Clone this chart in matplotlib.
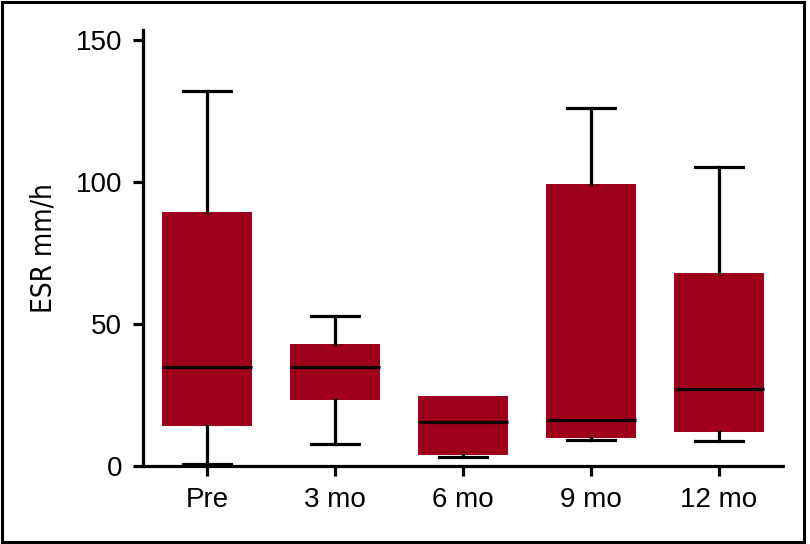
import matplotlib
matplotlib.use("Agg")
import matplotlib.pyplot as plt
from matplotlib.patches import Rectangle

# box statistics (ESR mm/h)
labels = ["Pre", "3 mo", "6 mo", "9 mo", "12 mo"]
whislo = [0.8, 7.7, 3.2, 9.2, 8.7]
q1 = [14.1, 23.2, 3.9, 9.9, 11.8]
med = [35.0, 35.0, 15.5, 16.3, 27.0]
q3 = [89.4, 43.0, 24.5, 99.2, 68.0]
whishi = [132.2, 52.9, 24.5, 126.0, 105.3]

box_color = "#9E001B"

plt.rcParams["font.family"] = ["Liberation Sans", "DejaVu Sans"]

fig = plt.figure(figsize=(8.1, 5.44), dpi=100)
ax = fig.add_axes([143 / 810, 1 - 466 / 544, 640 / 810, 436 / 544])

stats = []
for i in range(len(labels)):
  stats.append({"label": labels[i], "whislo": whislo[i], "q1": q1[i],
                "med": med[i], "q3": q3[i], "whishi": whishi[i], "fliers": []})

parts = ax.bxp(stats, positions=range(len(labels)), widths=0.70, patch_artist=True,
               showfliers=False, capwidths=0.375,
               boxprops=dict(facecolor=box_color, edgecolor=box_color, linewidth=0),
               medianprops=dict(color="black", linewidth=2.3),
               whiskerprops=dict(color="black", linewidth=2.3),
               capprops=dict(color="black", linewidth=2.3))
# no upper whisker on a box whose whisker ends at the box edge
for i in range(len(labels)):
  if whishi[i] <= q3[i]:
    parts["caps"][2 * i + 1].set_visible(False)

ax.set_xlim(-0.5, 4.5)
ax.set_ylim(0, 153.5)
ax.set_yticks([0, 50, 100, 150])
ax.set_xticks(range(len(labels)))
ax.set_xticklabels(labels)

for s in ["top", "right"]:
  ax.spines[s].set_visible(False)
for s in ["left", "bottom"]:
  ax.spines[s].set_linewidth(2.3)
ax.tick_params(axis="both", length=7, width=2.3, labelsize=20, pad=8, direction="out")

ax.set_ylabel("ESR mm/h", fontsize=20, family="DejaVu Sans", fontstretch="condensed", labelpad=13)

# black frame around the whole picture
fig.patches.append(Rectangle((1.5 / 810, 2 / 544), 802 / 810, 540 / 544,
                             transform=fig.transFigure, fill=False,
                             edgecolor="black", linewidth=2.2))

fig.savefig("out.png", dpi=100)
